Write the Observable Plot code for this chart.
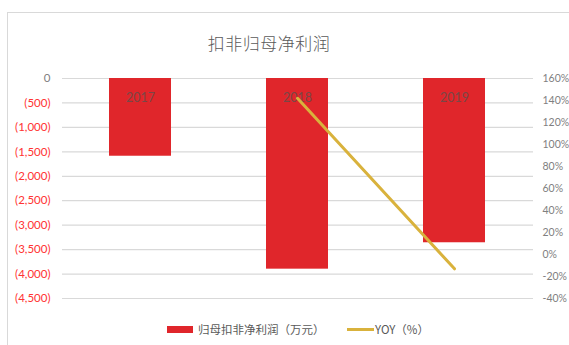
<!DOCTYPE html>
<html>
<head>
<meta charset="utf-8">
<script src="https://cdn.jsdelivr.net/npm/d3@7"></script>
<script src="https://cdn.jsdelivr.net/npm/@observablehq/plot@0.6"></script>
<style>
  html, body { margin: 0; padding: 0; background: #fff; }
  #wrap { position: relative; width: 569px; height: 345px; overflow: hidden; }
  #frame { position: absolute; left: 7px; top: 12px; width: 600px; height: 400px; border-left: 1.5px solid #d9d9d9; border-top: 1.5px solid #d9d9d9; }
  .layer { position: absolute; left: 0; top: 0; }
  #title { position: absolute; top: 30px; left: 169px; width: 200px; text-align: center; font-family: "Noto Sans CJK SC", sans-serif; font-weight: 300; font-size: 17px; color: #595959; letter-spacing: 0.5px; }
  .leg { position: absolute; font-family: "Noto Sans CJK SC", sans-serif; font-size: 11.5px; color: #595959; top: 321px; white-space: nowrap; }
  .sw { position: absolute; }
</style>
</head>
<body>
<div id="wrap">
  <div id="frame"></div>
  <div id="base" class="layer"></div>
  <div id="over" class="layer"></div>
  <div id="title">扣非归母净利润</div>
  <div class="sw" style="left:167px; top:326px; width:26px; height:7px; background:#E0262B;"></div>
  <div class="leg" style="left:198px;">归母扣非净利润（万元）</div>
  <div class="sw" style="left:347px; top:328px; width:27px; height:3px; background:#D9B23C;"></div>
  <div class="leg" style="left:375px;">YOY（%）</div>
</div>
<script>
const years = ["2017", "2018", "2019"];
const profit = [-1590, -3900, -3360];
const yoy = [null, 142, -13];
const leftTicks = [0, -500, -1000, -1500, -2000, -2500, -3000, -3500, -4000, -4500];
const rightTicks = [160, 140, 120, 100, 80, 60, 40, 20, 0, -20, -40];

const data = years.map((y, i) => ({year: y, profit: profit[i], yoy: yoy[i]}));
const lineData = data.filter(d => d.yoy !== null);

const W = 569, H = 345;
const margins = {marginTop: 78, marginBottom: 47, marginLeft: 62, marginRight: 36};
const xScale = {type: "band", domain: years, paddingInner: 0.605, paddingOuter: 0.3025, axis: null};
const fontFamily = "Lato, 'Liberation Sans', sans-serif";

const fmtLeft = v => v === 0 ? "0" : "(" + d3.format(",")(Math.abs(v)) + ")";

const base = Plot.plot({
  width: W, height: H, ...margins,
  style: {fontFamily, background: "transparent", overflow: "visible"},
  x: xScale,
  y: {domain: [-4500, 0], axis: null},
  marks: [
    Plot.ruleY(leftTicks, {stroke: "#d9d9d9", strokeWidth: 1.2}),
    Plot.barY(data, {x: "year", y: "profit", fill: "#E0262B"}),
    Plot.text(data, {x: "year", y: () => 0, text: "year", dy: 19, fill: "#7a4646", fontSize: 12.5, fontFamily}),
    Plot.text(leftTicks, {y: d => d, frameAnchor: "left", textAnchor: "end", dx: -12,
      text: fmtLeft, fill: d => d === 0 ? "#7f7f7f" : "#ff3333", fontSize: 11.5, fontFamily})
  ]
});
base.style.display = "block";
document.getElementById("base").appendChild(base);

const over = Plot.plot({
  width: W, height: H, ...margins,
  style: {fontFamily, background: "transparent", overflow: "visible"},
  x: xScale,
  y: {domain: [-40, 160], axis: null},
  marks: [
    Plot.line(lineData, {x: "year", y: "yoy", stroke: "#D9B23C", strokeWidth: 3, strokeLinecap: "round"}),
    Plot.text(rightTicks, {y: d => d, frameAnchor: "right", textAnchor: "start", dx: 9,
      text: d => d + "%", fill: "#7f7f7f", fontSize: 10.5, fontFamily})
  ]
});
over.style.display = "block";
document.getElementById("over").appendChild(over);
</script>
</body>
</html>
